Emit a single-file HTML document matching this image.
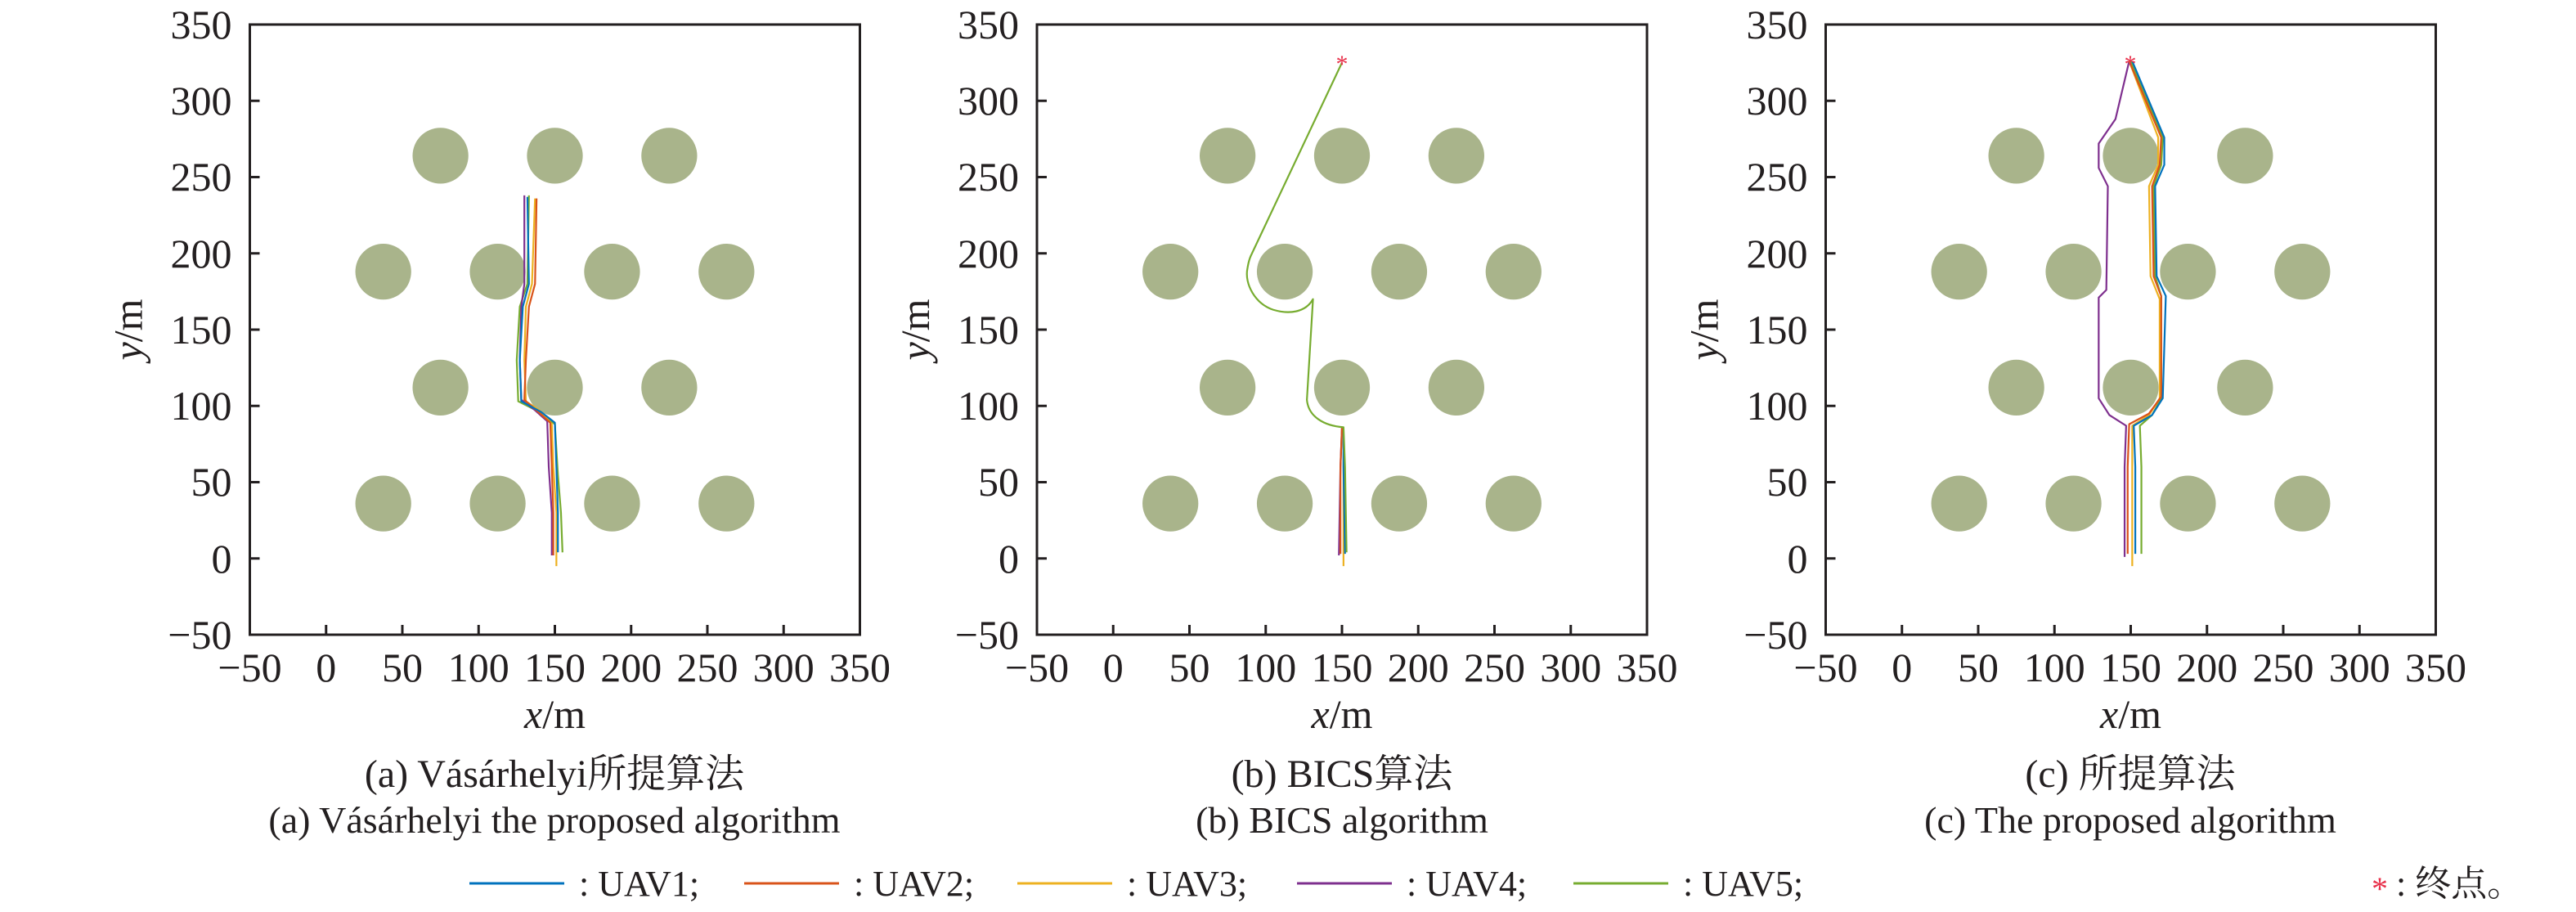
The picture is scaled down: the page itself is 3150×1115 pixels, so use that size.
<!DOCTYPE html>
<html><head><meta charset="utf-8"><style>
html,body{margin:0;padding:0;background:#fff;}
svg{display:block;}
svg text{font-family:"Liberation Serif","Noto Serif CJK SC",serif;}
</style></head><body>
<svg width="3150" height="1115" viewBox="0 0 3150 1115" xmlns="http://www.w3.org/2000/svg" font-family="Liberation Serif, Noto Serif CJK SC, serif" fill="#231f20">
<defs>
<g id="obs" fill="#a9b48b">
<circle cx="75" cy="264" r="18.3"/><circle cx="150" cy="264" r="18.3"/><circle cx="225" cy="264" r="18.3"/>
<circle cx="37.5" cy="188" r="18.3"/><circle cx="112.5" cy="188" r="18.3"/><circle cx="187.5" cy="188" r="18.3"/><circle cx="262.5" cy="188" r="18.3"/>
<circle cx="75" cy="112" r="18.3"/><circle cx="150" cy="112" r="18.3"/><circle cx="225" cy="112" r="18.3"/>
<circle cx="37.5" cy="36" r="18.3"/><circle cx="112.5" cy="36" r="18.3"/><circle cx="187.5" cy="36" r="18.3"/><circle cx="262.5" cy="36" r="18.3"/>
</g>
<g id="axlines">
<rect x="0" y="0" width="746" height="746" fill="none" stroke="#231f20" stroke-width="3"/>
<g stroke="#231f20" stroke-width="3">
<line x1="0" y1="93.25" x2="12" y2="93.25"/><line x1="0" y1="186.5" x2="12" y2="186.5"/><line x1="0" y1="279.75" x2="12" y2="279.75"/><line x1="0" y1="373" x2="12" y2="373"/><line x1="0" y1="466.25" x2="12" y2="466.25"/><line x1="0" y1="559.5" x2="12" y2="559.5"/><line x1="0" y1="652.75" x2="12" y2="652.75"/>
<line x1="93.25" y1="746" x2="93.25" y2="734"/><line x1="186.5" y1="746" x2="186.5" y2="734"/><line x1="279.75" y1="746" x2="279.75" y2="734"/><line x1="373" y1="746" x2="373" y2="734"/><line x1="466.25" y1="746" x2="466.25" y2="734"/><line x1="559.5" y1="746" x2="559.5" y2="734"/><line x1="652.75" y1="746" x2="652.75" y2="734"/>
</g>
</g>
</defs>

<!-- Panel 1 -->
<g transform="translate(305.5,30)">
<use href="#axlines"/>
<g font-size="50" text-anchor="end">
<text x="-22" y="17">350</text><text x="-22" y="110">300</text><text x="-22" y="203">250</text><text x="-22" y="297">200</text><text x="-22" y="390">150</text><text x="-22" y="483">100</text><text x="-22" y="576">50</text><text x="-22" y="670">0</text><text x="-22" y="763">−50</text>
</g>
<g font-size="50" text-anchor="middle">
<text x="0" y="803">−50</text><text x="93.25" y="803">0</text><text x="186.5" y="803">50</text><text x="279.75" y="803">100</text><text x="373" y="803">150</text><text x="466.25" y="803">200</text><text x="559.5" y="803">250</text><text x="652.75" y="803">300</text><text x="746" y="803">350</text>
<text x="373" y="860"><tspan font-style="italic">x</tspan>/m</text>
</g>
<text font-size="50" text-anchor="middle" transform="translate(-132,373) rotate(-90)"><tspan font-style="italic">y</tspan>/m</text>
<g transform="scale(1.865,-1.865) translate(50,-350)">
<use href="#obs"/>
<g fill="none" stroke-linejoin="round">
<polyline vector-effect="non-scaling-stroke" stroke-width="2.2" stroke="#77AC30" points="155,4 154,30 152,55 150,88 140,96 126,103 125,130 127,165 132,180 133,238"/>
<polyline vector-effect="non-scaling-stroke" stroke-width="2.2" stroke="#7E2F8E" points="148,2 148,30 146,60 145,90 136,98 128,104 127,130 128,165 130,180 130,238"/>
<polyline vector-effect="non-scaling-stroke" stroke-width="2.2" stroke="#EDB120" points="151,-5 151,30 149,60 148,88 140,97 131,103 130,130 131,165 135,180 137,236"/>
<polyline vector-effect="non-scaling-stroke" stroke-width="2.2" stroke="#D95319" points="149,2 149,30 148,60 147,89 138,97 130,104 131,130 133,165 137,180 138,236"/>
<polyline vector-effect="non-scaling-stroke" stroke-width="2.2" stroke="#0072BD" points="152,4 152,30 151,60 150,89 141,96 128,103 127,130 129,165 133,180 132,237"/>
</g>
</g>
</g>

<!-- Panel 2 -->
<g transform="translate(1268,30)">
<use href="#axlines"/>
<g font-size="50" text-anchor="end">
<text x="-22" y="17">350</text><text x="-22" y="110">300</text><text x="-22" y="203">250</text><text x="-22" y="297">200</text><text x="-22" y="390">150</text><text x="-22" y="483">100</text><text x="-22" y="576">50</text><text x="-22" y="670">0</text><text x="-22" y="763">−50</text>
</g>
<g font-size="50" text-anchor="middle">
<text x="0" y="803">−50</text><text x="93.25" y="803">0</text><text x="186.5" y="803">50</text><text x="279.75" y="803">100</text><text x="373" y="803">150</text><text x="466.25" y="803">200</text><text x="559.5" y="803">250</text><text x="652.75" y="803">300</text><text x="746" y="803">350</text>
<text x="373" y="860"><tspan font-style="italic">x</tspan>/m</text>
</g>
<text font-size="50" text-anchor="middle" transform="translate(-132,373) rotate(-90)"><tspan font-style="italic">y</tspan>/m</text>
<g transform="scale(1.865,-1.865) translate(50,-350)">
<use href="#obs"/>
<g fill="none" stroke-linejoin="round">
<polyline vector-effect="non-scaling-stroke" stroke-width="2.2" stroke="#EDB120" points="151,-5 151,60 151,86"/>
<polyline vector-effect="non-scaling-stroke" stroke-width="2.2" stroke="#7E2F8E" points="148,2 149,60 150,86"/>
<polyline vector-effect="non-scaling-stroke" stroke-width="2.2" stroke="#0072BD" points="152,3 151,60 151,86"/>
<polyline vector-effect="non-scaling-stroke" stroke-width="2.2" stroke="#D95319" points="149,3 149,60 150,86"/>
<path vector-effect="non-scaling-stroke" stroke-width="2.2" stroke="#77AC30" d="M153,4 L152,60 L151,86 C138,87 128,93 127,104 L131,170 C126,161 115,160 105,163 C93,167 86,180 88,190 C89,196 90,198 91,200 L150,325"/>
</g>
</g>
</g>
<text x="1641" y="88" font-size="30" fill="#e8304a" text-anchor="middle">*</text>

<!-- Panel 3 -->
<g transform="translate(2232.5,30)">
<use href="#axlines"/>
<g font-size="50" text-anchor="end">
<text x="-22" y="17">350</text><text x="-22" y="110">300</text><text x="-22" y="203">250</text><text x="-22" y="297">200</text><text x="-22" y="390">150</text><text x="-22" y="483">100</text><text x="-22" y="576">50</text><text x="-22" y="670">0</text><text x="-22" y="763">−50</text>
</g>
<g font-size="50" text-anchor="middle">
<text x="0" y="803">−50</text><text x="93.25" y="803">0</text><text x="186.5" y="803">50</text><text x="279.75" y="803">100</text><text x="373" y="803">150</text><text x="466.25" y="803">200</text><text x="559.5" y="803">250</text><text x="652.75" y="803">300</text><text x="746" y="803">350</text>
<text x="373" y="860"><tspan font-style="italic">x</tspan>/m</text>
</g>
<text font-size="50" text-anchor="middle" transform="translate(-132,373) rotate(-90)"><tspan font-style="italic">y</tspan>/m</text>
<g transform="scale(1.865,-1.865) translate(50,-350)">
<use href="#obs"/>
<g fill="none" stroke-linejoin="round">
<polyline vector-effect="non-scaling-stroke" stroke-width="2.2" stroke="#7E2F8E" points="146,1 146,60 147,87 136,94 129,105 129,171 134,176 135,244 129,256 129,272 140,288 149,326"/>
<polyline vector-effect="non-scaling-stroke" stroke-width="2.2" stroke="#77AC30" points="157,3 157,60 156,87 164,94 170,105 170,172 166,185 165,244 170,258 171,276 150,326"/>
<polyline vector-effect="non-scaling-stroke" stroke-width="2.2" stroke="#EDB120" points="151,-5 151,60 151,87 162,94 169,105 169,170 163,185 162,244 168,258 168,276 149,326"/>
<polyline vector-effect="non-scaling-stroke" stroke-width="2.2" stroke="#D95319" points="148,3 148,60 149,88 162,95 170,106 170,172 165,185 164,244 169,258 170,276 149,326"/>
<polyline vector-effect="non-scaling-stroke" stroke-width="2.2" stroke="#0072BD" points="153,3 153,60 152,87 164,94 171,105 173,172 167,185 166,244 172,258 172,276 151,326"/>
</g>
</g>
</g>
<text x="2605" y="88" font-size="30" fill="#e8304a" text-anchor="middle">*</text>

<!-- Captions -->
<g text-anchor="middle">
<text x="678" y="962" font-size="48">(a) Vásárhelyi所提算法</text>
<text x="678" y="1018" font-size="46">(a) Vásárhelyi the proposed algorithm</text>
<text x="1641" y="962" font-size="48">(b) BICS算法</text>
<text x="1641" y="1018" font-size="46">(b) BICS algorithm</text>
<text x="2605" y="962" font-size="48">(c) 所提算法</text>
<text x="2605" y="1018" font-size="46">(c) The proposed algorithm</text>
</g>

<!-- Legend -->
<g stroke-width="3">
<line x1="574" y1="1080" x2="690" y2="1080" stroke="#0072BD"/>
<line x1="910" y1="1080" x2="1026" y2="1080" stroke="#D95319"/>
<line x1="1244" y1="1080" x2="1360" y2="1080" stroke="#EDB120"/>
<line x1="1586" y1="1080" x2="1702" y2="1080" stroke="#7E2F8E"/>
<line x1="1924" y1="1080" x2="2040" y2="1080" stroke="#77AC30"/>
</g>
<g font-size="44">
<text x="708" y="1095">: UAV1;</text>
<text x="1044" y="1095">: UAV2;</text>
<text x="1378" y="1095">: UAV3;</text>
<text x="1720" y="1095">: UAV4;</text>
<text x="2058" y="1095">: UAV5;</text>
<text x="2900" y="1100" font-size="40" fill="#e8304a">*</text>
<text x="2930" y="1095">: 终点。</text>
</g>
</svg>
</body></html>
